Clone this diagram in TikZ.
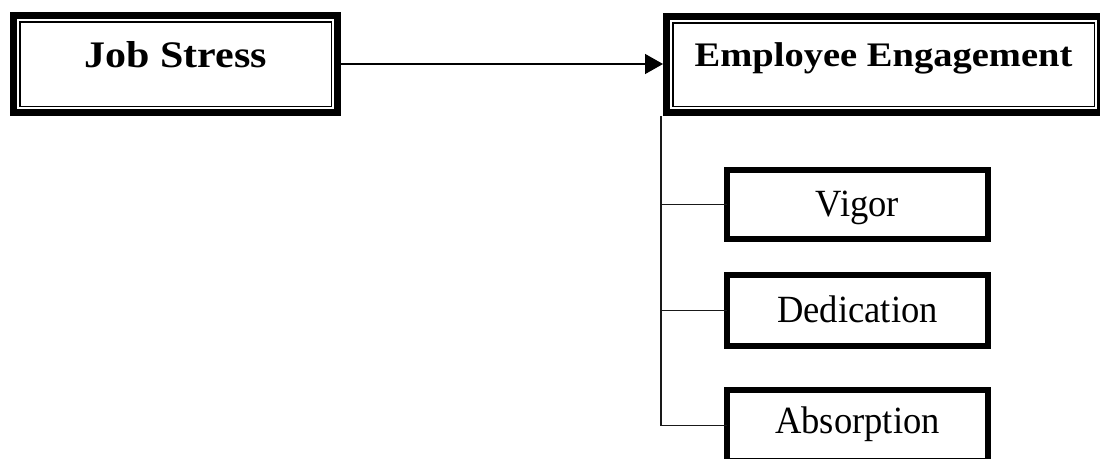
\documentclass[tikz,border=0pt]{standalone}
\usepackage{fontspec}
\setmainfont{Liberation Serif}[FakeStretch=0.95]
\newfontfamily\headfont{Liberation Serif}[FakeStretch=1.12]
\usetikzlibrary{arrows.meta}
\tikzset{
  headbox/.style={draw, line width=7pt, inner sep=0pt, outer sep=0pt,
    font=\headfont\bfseries, text depth=0pt},
  dimbox/.style={draw, line width=6pt, inner sep=0pt, outer sep=0pt,
    minimum width=261pt, text depth=0pt,
    font=\fontsize{38.5}{40}\selectfont},
  innerline/.style={line width=1.5pt},
  conn/.style={line width=1.5pt, draw=black!90},
}
\begin{document}
\begin{tikzpicture}[x=1pt,y=-1pt]
\useasboundingbox (0,0) rectangle (1100,458);
% main boxes
\node[headbox, minimum width=324pt, minimum height=97pt, text height=7pt,
      font=\headfont\bfseries\fontsize{37.5}{40}\selectfont]
  (js) at (175.5,64) {Job Stress};
\node[headbox, minimum width=434pt, minimum height=96pt, text height=3pt,
      font=\headfont\bfseries\fontsize{34.4}{38}\selectfont]
  (ee) at (883.5,64.5) {Employee Engagement};
% inner thin frames
\draw[innerline] ([shift={(6.25,6.25)}]js.north west) rectangle ([shift={(-6.25,-6.25)}]js.south east);
\draw[innerline] ([shift={(6.25,6.25)}]ee.north west) rectangle ([shift={(-6.25,-6.25)}]ee.south east);
% dimension boxes
\node[dimbox, minimum height=69pt, text height=24pt] (vi) at (857.5,204.5) {Vigor};
\node[dimbox, minimum height=71pt, text height=23pt] (de) at (857.5,310.5) {Dedication};
\node[dimbox, minimum height=71pt, text height=15pt] (ab) at (857.5,425.5) {Absorption};
% arrow
\draw[line width=1.4pt, -{Triangle[length=18pt,width=20pt]}, shorten >=3.5pt]
  (js.east) -- (js.east -| ee.west);
% tree connector
\coordinate (tt) at (661,116);
\draw[conn] (tt) |- (ab.west);
\draw[conn] (tt |- vi.west) -- (vi.west);
\draw[conn] (tt |- de.west) -- (de.west);
\end{tikzpicture}
\end{document}
